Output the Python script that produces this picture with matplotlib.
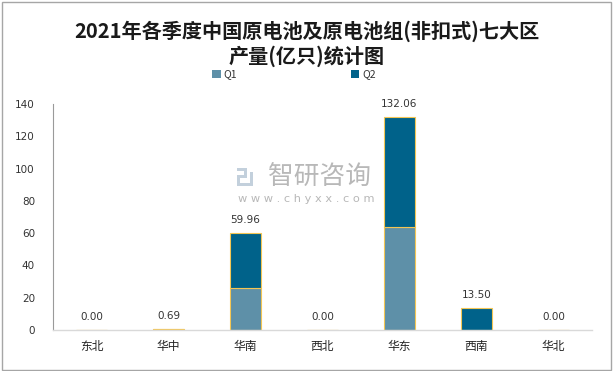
import matplotlib
matplotlib.use("Agg")
import matplotlib.pyplot as plt
from matplotlib.patches import Rectangle

plt.rcParams['font.family'] = ['Noto Sans CJK SC', 'DejaVu Sans']

regions = ["东北", "华中", "华南", "西北", "华东", "西南", "华北"]
q1 = [0.0, 0.35, 25.8, 0.0, 64.0, 0.0, 0.0]
q2 = [0.0, 0.34, 34.16, 0.0, 68.06, 13.5, 0.0]
totals = [0.00, 0.69, 59.96, 0.00, 132.06, 13.50, 0.00]
yticks = [0, 20, 40, 60, 80, 100, 120, 140]

c_q1 = '#5e90a8'
c_q2 = '#00628a'
edge = '#f3c654'

W, H = 614, 371
fig = plt.figure(figsize=(6.14, 3.71), dpi=100)
fig.patches.append(Rectangle((0.003, 0.004), 0.992, 0.99, transform=fig.transFigure,
                             fill=False, edgecolor='#a6a6a6', linewidth=1.0))

ax = fig.add_axes([0.0863, 0.1105, 0.8777, 0.6092])
x = list(range(len(regions)))
ax.bar(x, q1, width=0.4, color=c_q1, edgecolor=edge, linewidth=0.8)
ax.bar(x, q2, width=0.4, bottom=q1, color=c_q2, edgecolor=edge, linewidth=0.8)

for xi, t in zip(x, totals):
    ax.text(xi, t + 5, f"{t:.2f}", ha='center', va='bottom', fontsize=7.5, color='#333333',
            family=['DejaVu Sans'])

ax.set_xlim(-0.5, len(regions) - 0.5)
ax.set_ylim(0, 140)
ax.set_yticks(yticks)
ax.set_yticklabels([str(v) for v in yticks], fontsize=7.5, color='#333333', family=['DejaVu Sans'])
ax.set_xticks(x)
ax.set_xticklabels(regions, fontsize=8.5, color='#222222')
ax.tick_params(axis='both', length=0)
ax.tick_params(axis='y', pad=13)
ax.tick_params(axis='x', pad=7)
for s in ['top', 'right']:
    ax.spines[s].set_visible(False)
ax.spines['left'].set_color('#9a9a9a')
ax.spines['left'].set_linewidth(0.8)
ax.spines['bottom'].set_color('#d9d9d9')
ax.spines['bottom'].set_linewidth(1.0)

fig.text(0.5, 0.915, "2021年各季度中国原电池及原电池组(非扣式)七大区", ha='center', va='center',
         fontsize=14.5, fontweight='bold', color='#1a1a1a')
fig.text(0.5, 0.848, "产量(亿只)统计图", ha='center', va='center',
         fontsize=14.5, fontweight='bold', color='#1a1a1a')

# legend
h1 = Rectangle((0, 0), 1, 1, facecolor=c_q1, edgecolor='none')
h2 = Rectangle((0, 0), 1, 1, facecolor=c_q2, edgecolor='none')
leg = fig.legend([h1, h2], ['Q1', 'Q2'], loc='center', bbox_to_anchor=(0.479, 0.8), ncol=2,
                 frameon=False, fontsize=7.5, handlelength=0.8, handleheight=0.8,
                 columnspacing=10.9, handletextpad=0.3)
for t in leg.get_texts():
    t.set_color('#333333')

# watermark
wm = '#b8b8b8'
fig.text(268 / W, 1 - 177 / H, "智研咨询", ha='left', va='center', fontsize=18.5, color=wm)
fig.text(306 / W, 1 - 199 / H, "w w w . c h y x x . c o m", ha='center', va='center',
         fontsize=8.2, color=wm, family=['DejaVu Sans'])
icon = '#c3d0dc'
for (x0, y0, w, h) in [(237, 168, 10, 3), (244, 168, 3, 9), (237, 175, 10, 3),
                       (237, 175, 3, 11), (237, 183, 16, 3), (250, 172, 3, 14)]:
    fig.patches.append(Rectangle((x0 / W, 1 - (y0 + h) / H), w / W, h / H,
                                 transform=fig.transFigure, facecolor=icon, edgecolor='none'))

fig.savefig("out.png", dpi=100)
